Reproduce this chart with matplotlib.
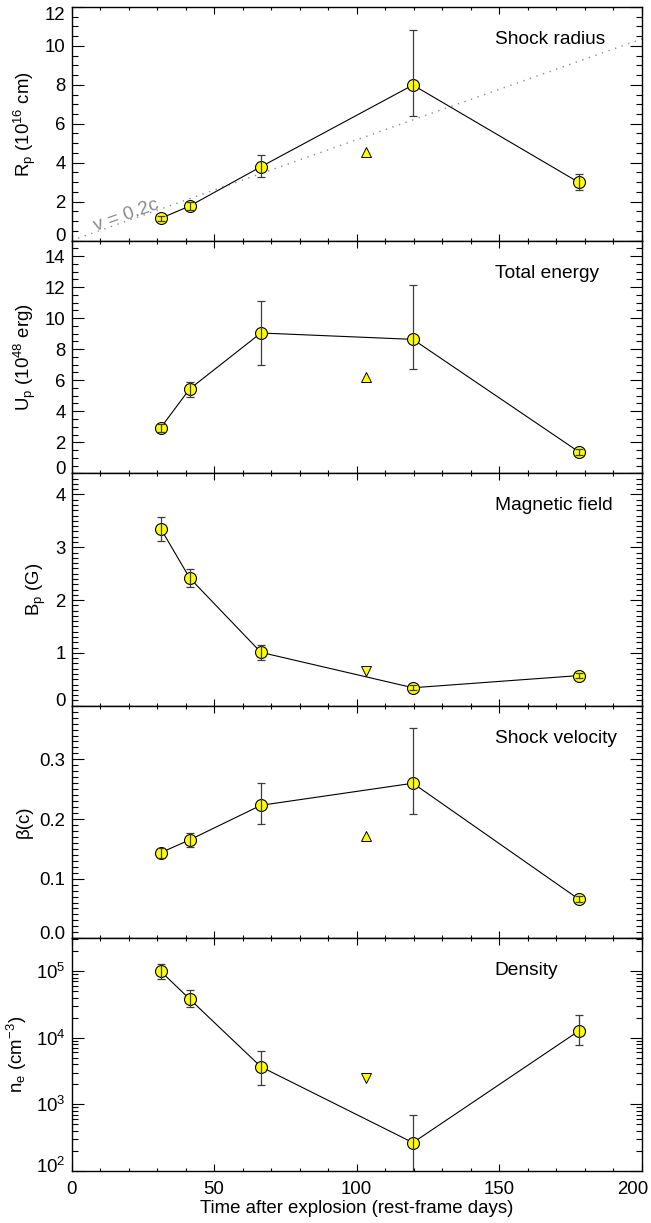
import numpy as np
import matplotlib
matplotlib.use('Agg')
import matplotlib.pyplot as plt
from matplotlib.ticker import MultipleLocator, FixedLocator, LogLocator, NullFormatter, LogFormatterMathtext, FormatStrFormatter
from matplotlib.transforms import ScaledTranslation

plt.rcParams['font.family'] = ['Liberation Sans', 'DejaVu Sans']
plt.rcParams['mathtext.default'] = 'regular'
plt.rcParams['font.size'] = 13.4
plt.rcParams['axes.linewidth'] = 1.0

# ---------------- data ----------------
days = [31.3, 41.4, 66.4, 119.7, 177.8]
day_limit = 103.2

radius = [1.14, 1.77, 3.79, 7.99, 2.99]
radius_lo = [0.13, 0.20, 0.53, 1.61, 0.39]
radius_hi = [0.13, 0.20, 0.62, 2.83, 0.41]
radius_limit = 4.57

energy = [2.94, 5.43, 9.04, 8.63, 1.39]
energy_lo = [0.25, 0.49, 2.08, 1.93, 0.20]
energy_hi = [0.25, 0.47, 2.04, 3.52, 0.20]
energy_limit = 6.23

bfield = [3.35, 2.42, 1.01, 0.34, 0.57]
bfield_lo = [0.23, 0.17, 0.14, 0.05, 0.05]
bfield_hi = [0.22, 0.17, 0.13, 0.05, 0.05]
bfield_limit = 0.65

beta = [0.1436, 0.165, 0.223, 0.260, 0.0657]
beta_lo = [0.0086, 0.012, 0.031, 0.052, 0.005]
beta_hi = [0.0079, 0.011, 0.037, 0.092, 0.005]
beta_limit = 0.171

density = [9.9e4, 3.81e4, 3.66e3, 266, 1.26e4]
density_lo = [2.3e4, 0.92e4, 1.71e3, 206, 0.48e4]
density_hi = [2.8e4, 1.33e4, 2.62e3, 432, 0.91e4]
density_limit = 2.5e3

titles = ['Shock radius', 'Total energy', 'Magnetic field', 'Shock velocity', 'Density']
ylabels = [r'R$_{p}$ (10$^{16}$ cm)', r'U$_{p}$ (10$^{48}$ erg)', r'B$_{p}$ (G)',
           'β(c)', r'n$_{e}$ (cm$^{−3}$)']
xlabel = 'Time after explosion (rest-frame days)'
xticks = [0, 50, 100, 150, 200]

# v = 0.2c reference line (in 1e16 cm)
c_cms = 2.998e10
line_days = [0, 200]
line_r = [0.2 * c_cms * 86400 * d / 1e16 for d in line_days]

# ---------------- layout ----------------
W, H = 651, 1223
fig = plt.figure(figsize=(W / 100, H / 100), dpi=100)
edges = [7, 240.5, 473.3, 705.7, 938.3, 1171]
left, right = 71.5, 642

panels = [
    dict(y=radius, lo=radius_lo, hi=radius_hi, lim=radius_limit, mk='^',
         ylim=(0, 12), major=np.arange(0, 13, 2), minor=0.5, fmt='%d', log=False),
    dict(y=energy, lo=energy_lo, hi=energy_hi, lim=energy_limit, mk='^',
         ylim=(0, 15), major=np.arange(0, 15, 2), minor=0.5, fmt='%d', log=False),
    dict(y=bfield, lo=bfield_lo, hi=bfield_hi, lim=bfield_limit, mk='v',
         ylim=(0, 4.4), major=np.arange(0, 5, 1), minor=0.1, fmt='%d', log=False),
    dict(y=beta, lo=beta_lo, hi=beta_hi, lim=beta_limit, mk='^',
         ylim=(0, 0.39), major=[0.0, 0.1, 0.2, 0.3], minor=0.01, fmt='%.1f', log=False),
    dict(y=density, lo=density_lo, hi=density_hi, lim=density_limit, mk='v',
         ylim=(100, 3.1e5), major=None, minor=None, fmt=None, log=True),
]

axes = []
for i, p in enumerate(panels):
    top_px, bot_px = edges[i], edges[i + 1]
    ax = fig.add_axes([left / W, 1 - bot_px / H, (right - left) / W, (bot_px - top_px) / H],
                      sharex=axes[0] if axes else None)
    axes.append(ax)

    if p['log']:
        ax.set_yscale('log')
    # connecting line, markers, error bars on top
    ax.plot(days, p['y'], '-', color='k', lw=0.8, zorder=2)
    ax.plot(days, p['y'], 'o', mfc='#ffff00', mec='k', ms=8.6, mew=0.8, zorder=3)
    ax.errorbar(days, p['y'], yerr=[p['lo'], p['hi']], fmt='none', ecolor='#3c3c3c',
                elinewidth=0.9, capsize=3, capthick=0.9, zorder=4)
    ax.plot([day_limit], [p['lim']], p['mk'], mfc='#ffff00', mec='k', ms=7.8, mew=0.7, zorder=3)

    ax.set_xlim(0, 200)
    ax.set_ylim(*p['ylim'])
    ax.xaxis.set_major_locator(FixedLocator(xticks))
    ax.xaxis.set_minor_locator(MultipleLocator(10))
    if p['log']:
        ax.yaxis.set_major_locator(LogLocator(base=10, numticks=10))
        ax.yaxis.set_minor_locator(LogLocator(base=10, subs=np.arange(2, 10), numticks=20))
        ax.yaxis.set_major_formatter(LogFormatterMathtext())
        ax.yaxis.set_minor_formatter(NullFormatter())
    else:
        ax.yaxis.set_major_locator(FixedLocator(p['major']))
        ax.yaxis.set_minor_locator(MultipleLocator(p['minor']))
        ax.yaxis.set_major_formatter(FormatStrFormatter(p['fmt']))

    ax.tick_params(axis='x', which='major', direction='in', length=4.7, width=0.8,
                   top=True, bottom=True, labelsize=13.4, pad=7.5)
    ax.tick_params(axis='x', which='minor', direction='in', length=2.3, width=0.8,
                   top=True, bottom=True)
    ax.tick_params(axis='y', which='major', direction='in', length=8.4, width=0.8,
                   left=True, right=True, labelsize=13.4, pad=4.3)
    ax.tick_params(axis='y', which='minor', direction='in', length=4.3, width=0.8,
                   left=True, right=True)
    if i < len(panels) - 1:
        ax.tick_params(axis='x', labelbottom=False)

    ax.set_ylabel(ylabels[i], fontsize=13.4, labelpad=5)
    ax.text(0.742, 1 - 32.5 / (bot_px - top_px), titles[i], transform=ax.transAxes,
            ha='left', va='center', fontsize=13.8)

# reference line v = 0.2c in top panel
ax0 = axes[0]
ax0.plot(line_days, line_r, color='#8c8c8c', lw=1.0, linestyle=(0, (1, 4)), zorder=1)
slope_deg = np.degrees(np.arctan2(line_r[1] - line_r[0], line_days[1] - line_days[0]))
ax0.text(19.3, 0.2 * c_cms * 86400 * 19.3 / 1e16 + 0.3, 'v = 0.2c', color='#8c8c8c',
         fontsize=13.8, rotation=slope_deg, transform_rotates_text=True,
         rotation_mode='anchor', ha='center', va='center')

axes[-1].set_xlabel(xlabel, fontsize=13.4, labelpad=1)

# shift edge tick labels inward like the original
fig.canvas.draw()
for ax in axes:
    y0, y1 = ax.get_ylim()
    for t in ax.yaxis.get_major_ticks():
        loc = t.get_loc()
        if np.isclose(loc, y0):
            t.label1.set_transform(t.label1.get_transform() +
                                   ScaledTranslation(0, 6 / 100, fig.dpi_scale_trans))
        elif np.isclose(loc, y1):
            t.label1.set_transform(t.label1.get_transform() +
                                   ScaledTranslation(0, -6 / 100, fig.dpi_scale_trans))
for t in axes[-1].xaxis.get_major_ticks():
    if np.isclose(t.get_loc(), 200):
        t.label1.set_transform(t.label1.get_transform() +
                               ScaledTranslation(-9 / 100, 0, fig.dpi_scale_trans))

fig.savefig('out.png', dpi=100)
